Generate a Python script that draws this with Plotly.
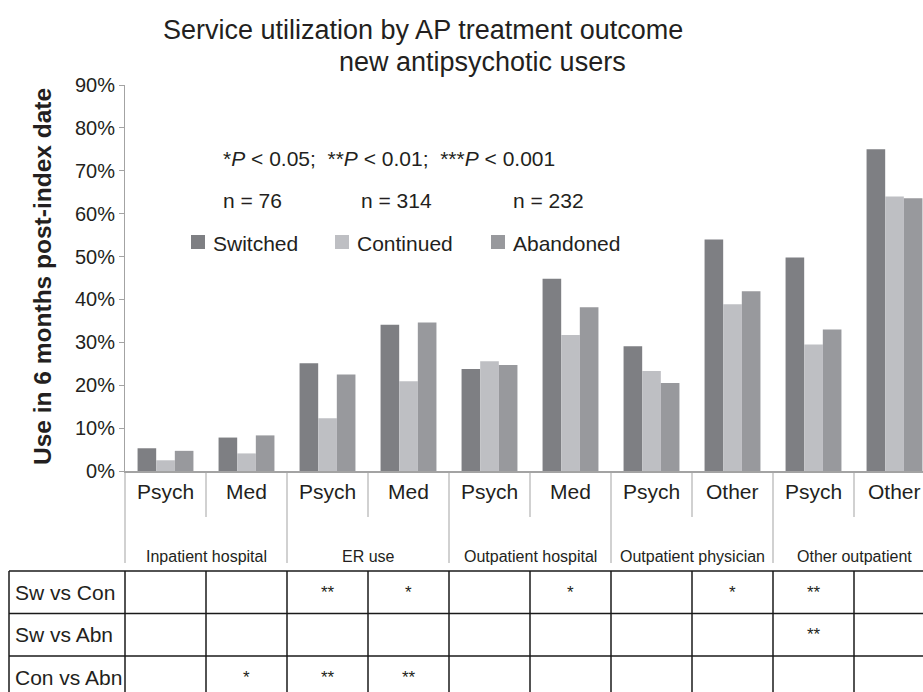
import plotly.graph_objects as go

# ---------------- data ----------------
categories = ["Psych", "Med", "Psych", "Med", "Psych", "Med", "Psych", "Other", "Psych", "Other"]
groups = ["Inpatient hospital", "ER use", "Outpatient hospital", "Outpatient physician", "Other outpatient"]
series_names = ["Switched", "Continued", "Abandoned"]
switched = [5.3, 7.8, 25.1, 34.1, 23.8, 44.8, 29.1, 54.0, 49.8, 75.0]
continued = [2.5, 4.1, 12.3, 20.9, 25.6, 31.7, 23.3, 38.9, 29.5, 64.0]
abandoned = [4.7, 8.3, 22.5, 34.6, 24.7, 38.2, 20.5, 41.9, 33.0, 63.6]
n_values = [76, 314, 232]
y_ticks = [0, 10, 20, 30, 40, 50, 60, 70, 80, 90]
comparisons = ["Sw vs Con", "Sw vs Abn", "Con vs Abn"]
sig_sw_con = ["", "", "**", "*", "", "*", "", "*", "**", ""]
sig_sw_abn = ["", "", "", "", "", "", "", "", "**", ""]
sig_con_abn = ["", "*", "**", "**", "", "", "", "", "", ""]

# ---------------- styles / layout ----------------
colors = ["#7e7f83", "#bebfc3", "#98999d"]
W, H = 923, 692                     # figure = browser window
L, T, BASE = 125, 85, 471           # plot left, top, baseline (px)
CAT_PX = 81                         # width of one category (px)
FONT = "Liberation Sans, Arial, sans-serif"
TXT = "#231f20"
AX = "#a3a3a3"

x_max = -0.5 + (W - L) / CAT_PX
span = x_max + 0.5


def py(y):
    return (BASE - y) / (BASE - T)


def px(x):
    return (x - L) / (W - L)


def bx(b):  # category coordinate -> paper x
    return (b + 0.5) / span


fig = go.Figure()
xs = list(range(len(categories)))
for name, vals, col in zip(series_names, [switched, continued, abandoned], colors):
    fig.add_trace(go.Bar(x=xs, y=vals, name=name, marker=dict(color=col, line=dict(width=0)),
                         showlegend=False, hovertemplate=name + ": %{y}%<extra></extra>"))

shapes = []
ann = []

# sub-category separators and group separators below axis
for g in range(len(groups)):
    b_inner = 2 * g + 0.5
    shapes.append(dict(type="line", xref="paper", yref="paper", x0=bx(b_inner), x1=bx(b_inner),
                       y0=py(BASE), y1=py(517), line=dict(color=AX, width=1)))
for g in range(len(groups) + 1):
    b = 2 * g - 0.5
    shapes.append(dict(type="line", xref="paper", yref="paper", x0=bx(b), x1=bx(b),
                       y0=py(BASE), y1=py(563), line=dict(color=AX, width=1)))

# category labels
for i, c in enumerate(categories):
    ann.append(dict(x=i, y=py(491), xref="x", yref="paper", text=c, showarrow=False,
                    font=dict(size=21, color=TXT), xanchor="center", yanchor="middle"))
# group labels
for g, name in enumerate(groups):
    ann.append(dict(x=2 * g + 0.5, y=py(556), xref="x", yref="paper", text=name, showarrow=False,
                    font=dict(size=16, color=TXT), xanchor="center", yanchor="middle"))

# significance table
row_top = 571
row_h = 42.5
tbl_left = px(9)
n_rows = len(comparisons)
for r in range(n_rows + 1):
    yy = py(row_top + r * row_h)
    shapes.append(dict(type="line", xref="paper", yref="paper", x0=tbl_left, x1=1.05,
                       y0=yy, y1=yy, line=dict(color="#1a1a1a", width=1.5)))
y_bot = py(row_top + n_rows * row_h)
shapes.append(dict(type="line", xref="paper", yref="paper", x0=tbl_left, x1=tbl_left,
                   y0=py(row_top), y1=y_bot, line=dict(color="#1a1a1a", width=1.5)))
for k in range(len(categories) + 1):
    b = k - 0.5
    shapes.append(dict(type="line", xref="paper", yref="paper", x0=bx(b), x1=bx(b),
                       y0=py(row_top), y1=y_bot, line=dict(color="#1a1a1a", width=1.5)))
for r, (label, sig) in enumerate(zip(comparisons, [sig_sw_con, sig_sw_abn, sig_con_abn])):
    yc = py(row_top + (r + 0.5) * row_h)
    ann.append(dict(x=px(13), y=yc, xref="paper", yref="paper", text=label, showarrow=False,
                    font=dict(size=21, color=TXT), xanchor="left", yanchor="middle"))
    for i, s in enumerate(sig):
        if s:
            ann.append(dict(x=i, y=yc, xref="x", yref="paper", text=s, showarrow=False,
                            font=dict(size=17, color=TXT), xanchor="center", yanchor="middle"))

# titles
ann.append(dict(x=px(423), y=py(30), xref="paper", yref="paper",
                text="Service utilization by AP treatment outcome", showarrow=False,
                font=dict(size=27, color=TXT), xanchor="center", yanchor="middle"))
ann.append(dict(x=px(482), y=py(62), xref="paper", yref="paper",
                text="new antipsychotic users", showarrow=False,
                font=dict(size=27, color=TXT), xanchor="center", yanchor="middle"))
# y-axis title
ann.append(dict(x=px(42), y=py(277), xref="paper", yref="paper",
                text="<b>Use in 6 months post-index date</b>", showarrow=False, textangle=-90,
                font=dict(size=24.5, color=TXT), xanchor="center", yanchor="middle"))

# p-value note
ann.append(dict(x=px(221), y=py(158), xref="paper", yref="paper",
                text="*<i>P</i> &lt; 0.05;&nbsp; **<i>P</i> &lt; 0.01;&nbsp; ***<i>P</i> &lt; 0.001",
                showarrow=False, font=dict(size=21, color=TXT), xanchor="left", yanchor="middle"))
# n labels
n_x = [221, 359, 511]
for nv, xx in zip(n_values, n_x):
    ann.append(dict(x=px(xx), y=py(200), xref="paper", yref="paper", text=f"n = {nv}",
                    showarrow=False, font=dict(size=21, color=TXT), xanchor="left", yanchor="middle"))
# manual legend
leg_x = [191, 335, 491]
leg_y = 242
for name, col, xx in zip(series_names, colors, leg_x):
    shapes.append(dict(type="rect", xref="paper", yref="paper", x0=px(xx), x1=px(xx + 14),
                       y0=py(leg_y + 7), y1=py(leg_y - 7), line=dict(width=0), fillcolor=col))
    ann.append(dict(x=px(xx + 20), y=py(leg_y + 1), xref="paper", yref="paper", text=name,
                    showarrow=False, font=dict(size=21, color=TXT), xanchor="left", yanchor="middle"))

fig.update_layout(
    width=W, height=H,
    margin=dict(l=L, r=0, t=T, b=H - BASE, pad=0),
    paper_bgcolor="white", plot_bgcolor="white",
    barmode="group", bargap=0.31, bargroupgap=0,
    font=dict(family=FONT, color=TXT),
    showlegend=False,
    shapes=shapes, annotations=ann,
    xaxis=dict(range=[-0.5, x_max], showticklabels=False, showgrid=False, zeroline=False,
               showline=True, linecolor=AX, linewidth=1.5, ticks=""),
    yaxis=dict(range=[0, 90], tickvals=y_ticks, ticktext=[f"{v}%" for v in y_ticks],
               showgrid=False, zeroline=False, showline=True, linecolor=AX, linewidth=1,
               ticks="outside", ticklen=5, tickcolor=AX, tickfont=dict(size=20, color=TXT)),
)

# remove the default page margin so the figure sits at the window origin
page_js = ("document.documentElement.style.overflow='hidden';"
           "document.body.style.margin='0';document.body.style.overflow='hidden';")
fig.write_html("out.html", post_script=page_js, config={"displayModeBar": False})
